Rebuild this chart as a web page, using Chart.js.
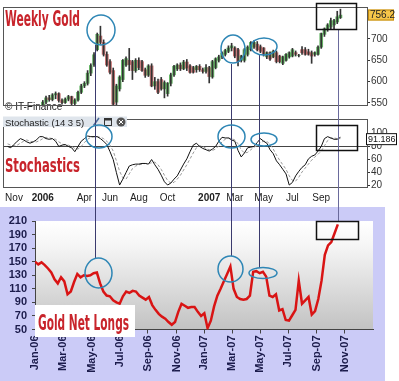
<!DOCTYPE html>
<html>
<head>
<meta charset="utf-8">
<script src="https://cdn.jsdelivr.net/npm/chart.js@4.4.1/dist/chart.umd.min.js"></script>
<style>
  html, body { margin: 0; padding: 0; background: #fff; }
  #wrap { position: relative; width: 399px; height: 381px; overflow: hidden; }
  canvas { position: absolute; left: 0; }
  #priceCanvas { top: 0; }
  #stochCanvas { top: 112px; }
  #cotCanvas { top: 207px; background: #cbcbf7; }
  #marks { top: 0; pointer-events: none; }
</style>
</head>
<body>
<div id="wrap">
  <canvas id="priceCanvas" width="399" height="112"></canvas>
  <canvas id="stochCanvas" width="399" height="95"></canvas>
  <canvas id="cotCanvas" width="385" height="174"></canvas>
  <canvas id="marks" width="399" height="381"></canvas>
</div>
<script>
// week 0 = first week of Nov 2005, shared by the candle and stochastic panels
const weekMin = -3.44;
const weekMax = 110.3;

const candleStartWeek = 9;
const candleOpen  = [540,552,562,558,569,572,556,551,559,565,549,557,575,590,596,620,640,675,707,692,664,647,626,552,583,605,639,650,647,626,650,647,628,615,637,590,600,605,583,572,596,616,630,639,630,646,637,633,628,636,628,624,633,611,633,650,658,664,671,679,679,675,650,650,664,675,681,688,682,679,658,668,658,668,660,643,650,658,660,668,661,675,675,670,668,664,664,681,711,722,728,733,740,750];
const candleHigh  = [556,566,568,572,576,574,560,562,568,566,560,578,594,600,626,642,668,714,730,698,670,652,632,594,614,652,658,678,650,654,656,650,632,640,642,610,606,610,602,598,620,638,642,644,650,652,640,636,638,640,632,640,636,650,656,662,670,676,684,690,682,678,662,678,684,694,696,694,686,680,670,670,674,672,662,660,666,670,678,672,664,682,680,676,672,670,684,714,726,736,749,746,765,770];
const candleLow   = [536,548,554,555,560,552,547,549,555,546,546,554,572,586,592,614,636,672,688,660,636,618,543,546,578,600,636,626,605,622,628,624,610,612,588,582,572,580,562,566,590,612,626,626,628,626,620,620,622,624,620,620,597,608,630,646,654,660,668,672,656,637,646,646,660,672,678,672,668,660,654,650,656,644,644,640,648,655,658,660,658,664,662,662,643,660,662,678,706,718,724,724,736,748];
const candleClose = [552,562,558,569,572,556,551,559,565,549,557,575,590,596,620,638,663,711,692,664,639,622,547,590,611,650,654,640,626,650,633,626,615,637,590,600,575,583,598,596,616,636,639,630,646,632,622,622,636,628,624,633,612,647,654,658,667,673,679,684,660,647,660,675,681,692,692,675,671,664,668,653,671,647,647,658,664,668,675,664,661,668,664,664,660,668,681,713,724,733,743,743,752,756];
const priceTicks = [550, 600, 650, 700];
const lastPrice = 756.2;

const stochStartWeek = -2;
const stochK = [80,78,83,88,92,90,87,85,87,90, 95,95,92,91,92,88,80,82,83,80, 78,72,80,88,92,96,95,95,95,92, 88,83,72,60,40,21,30,40,50,52, 53,53,54,54,53,60,52,45,36,26, 21,24,30,35,44,53,61,72,82,85, 80,77,75,73,76,80,88,94,93,93, 90,88,74,64,70,78,79,80,86,92, 88,85,75,69,58,52,45,38,21,25, 35,42,48,52,61,65,67,73,80,92, 95,93,91,91,94];
const stochD = [84,82,81,82,85,88,90,88,87,87, 89,92,94,93,92,91,87,84,82,82, 80,77,76,80,86,91,94,95,95,94, 92,88,82,73,58,42,32,30,38,46, 50,52,53,54,54,55,56,52,45,36, 28,24,25,30,36,44,52,61,70,78, 81,80,77,75,74,76,81,87,91,93, 92,90,84,75,70,71,75,79,81,86, 88,88,83,76,67,59,52,45,35,28, 27,33,41,47,53,59,64,68,73,81, 89,93,93,92,92];
const stochTicks = [20, 40, 60, 80, 100];
const stochLabelWeeks = [0, 9, 22, 30, 39, 48, 61, 69, 78, 87, 96];
const stochLabels = ['Nov', '2006', 'Apr', 'Jun', 'Aug', 'Oct', '2007', 'Mar', 'May', 'Jul', 'Sep'];
const lastStoch = 91.186;

// gold net longs, weekly from the first week of Jan 2006
const netLongs = [150,146,149,145,140,134,124,118,127,121, 102,106,120,132,127,130,129,130,133,134, 118,106,100,99,93,90,88,99,106,104, 107,106,100,97,94,98,86,79,73,69, 66,61,57,61,76,88,85,82,83,83, 76,70,74,52,63,84,100,110,121,132, 143,110,98,95,94,95,100,135,136,133, 135,128,100,98,102,78,80,64,63,71, 79,122,88,93,98,72,77,95,122,160, 174,179,192,205];
const netLongTickWeeks = [0, 8.6, 17.5, 26.1, 34.7, 43.6, 51.9, 60.5, 69.1, 77.7, 86.6, 95.2];
const netLongTickLabels = ['Jan-06','Mar-06','May-06','Jul-06','Sep-06','Nov-06','Jan-07','Mar-07','May-07','Jul-07','Sep-07','Nov-07'];

const sans = '"Liberation Sans", Arial, sans-serif';
const narrow = '"Liberation Sans Narrow", "DejaVu Sans Condensed", sans-serif';
const titleRed = '#c8242b';

// ---------- weekly gold candles ----------
let bodies = [];
let wicks = [];
let bodyColors = [];
for (var i = 0; i < candleOpen.length; i += 1) {
    let w = candleStartWeek + i;
    bodies.push({x: w, y: [candleOpen[i], candleClose[i]]});
    wicks.push({x: w, y: [candleLow[i], candleHigh[i]]});
    bodyColors.push(candleClose[i] >= candleOpen[i] ? '#66b566' : '#c47272');
}

const priceDecor = {
    id: 'priceDecor',
    beforeDatasetsDraw(chart) {
        const c = chart.ctx;
        c.save();
        c.font = '10px ' + sans;
        c.fillStyle = '#222';
        c.fillText('© IT-Finance', 5, 110);
        c.restore();
    },
    afterDraw(chart) {
        const c = chart.ctx;
        const a = chart.chartArea;
        c.save();
        c.strokeStyle = '#555';
        c.lineWidth = 1;
        c.strokeRect(a.left + 0.5, a.top + 0.5, a.right - a.left, a.bottom - a.top);
        c.font = 'bold 21px ' + narrow;
        c.fillStyle = titleRed;
        c.fillText('Weekly Gold', 5, 26, 75);
        let y = chart.scales.y.getPixelForValue(lastPrice);
        c.fillStyle = '#f6c64a';
        c.fillRect(368, y - 5.5, 26, 11);
        c.strokeStyle = '#c08a10';
        c.strokeRect(368.5, y - 5, 25, 10);
        c.fillStyle = '#222';
        c.font = '10px ' + sans;
        c.textBaseline = 'middle';
        c.fillText(lastPrice.toFixed(1), 370, y + 0.5);
        c.restore();
    }
};

new Chart(document.getElementById('priceCanvas'), {
    type: 'bar',
    data: {
        datasets: [{
            data: wicks,
            backgroundColor: '#333',
            barThickness: 1,
            grouped: false,
            order: 1
        }, {
            data: bodies,
            backgroundColor: bodyColors,
            barThickness: 3,
            grouped: false,
            order: 2
        }]
    },
    options: {
        responsive: false,
        animation: false,
        layout: {padding: {left: 3, top: 3, right: 0, bottom: 1}},
        plugins: {legend: {display: false}, tooltip: {enabled: false}},
        scales: {
            x: {type: 'linear', min: weekMin, max: weekMax, offset: false, display: false},
            y: {
                position: 'right',
                min: 545.3,
                max: 775,
                afterFit: (s) => { s.width = 32; },
                afterBuildTicks: (s) => { s.ticks = priceTicks.map((v) => ({value: v})); },
                grid: {drawOnChartArea: false, tickLength: 3, color: '#333'},
                border: {color: '#333'},
                ticks: {padding: 1, color: '#333', font: {size: 10, family: sans}}
            }
        }
    },
    plugins: [priceDecor]
});

// ---------- stochastic ----------
const stochDecor = {
    id: 'stochDecor',
    beforeDatasetsDraw(chart) {
        const c = chart.ctx;
        const a = chart.chartArea;
        let y = Math.round(chart.scales.y.getPixelForValue(80)) + 0.5;
        c.save();
        c.strokeStyle = '#444';
        c.lineWidth = 1;
        c.beginPath();
        c.moveTo(a.left, y);
        c.lineTo(a.right, y);
        c.stroke();
        c.restore();
    },
    afterDraw(chart) {
        const c = chart.ctx;
        const a = chart.chartArea;
        c.save();
        c.strokeStyle = '#555';
        c.lineWidth = 1;
        c.strokeRect(a.left + 0.5, a.top + 0.5, a.right - a.left, a.bottom - a.top);
        // panel header
        c.fillStyle = '#dfe5ec';
        c.fillRect(3, 4.5, 124, 10.5);
        c.fillStyle = '#222';
        c.font = '9.5px ' + sans;
        c.fillText('Stochastic (14 3 5)', 5, 13.5);
        c.strokeStyle = '#4a6a9a';
        c.lineWidth = 1.5;
        c.beginPath();
        c.moveTo(93.5, 13.5);
        c.lineTo(99, 6);
        c.stroke();
        c.strokeStyle = '#333';
        c.lineWidth = 1;
        c.strokeRect(104.5, 6.5, 7, 7);
        c.fillStyle = '#333';
        c.fillRect(104, 6, 8, 2.5);
        c.fillStyle = '#555';
        c.beginPath();
        c.arc(121, 10, 4.5, 0, Math.PI * 2);
        c.fill();
        c.strokeStyle = '#fff';
        c.beginPath();
        c.moveTo(119, 8); c.lineTo(123, 12);
        c.moveTo(123, 8); c.lineTo(119, 12);
        c.stroke();
        // label
        c.font = 'bold 20px ' + narrow;
        c.fillStyle = titleRed;
        c.fillText('Stochastics', 5, 60, 75);
        // last value tag
        let y = chart.scales.y.getPixelForValue(lastStoch);
        c.fillStyle = '#fff';
        c.fillRect(366, y - 6, 31, 12);
        c.strokeStyle = '#111';
        c.strokeRect(366.5, y - 5.5, 30, 11);
        c.fillStyle = '#111';
        c.font = '9px ' + sans;
        c.textBaseline = 'middle';
        c.fillText(lastStoch.toString(), 368, y + 0.5, 28);
        c.restore();
    }
};

new Chart(document.getElementById('stochCanvas'), {
    type: 'line',
    data: {
        datasets: [{
            data: stochK.map((v, i) => ({x: stochStartWeek + i, y: v})),
            borderColor: '#111',
            borderWidth: 1,
            pointRadius: 0
        }, {
            data: stochD.map((v, i) => ({x: stochStartWeek + i, y: v})),
            borderColor: '#999',
            borderWidth: 1,
            borderDash: [3, 2],
            pointRadius: 0
        }]
    },
    options: {
        responsive: false,
        animation: false,
        layout: {padding: {left: 3, top: 2.5, right: 0, bottom: 0}},
        plugins: {legend: {display: false}, tooltip: {enabled: false}},
        scales: {
            x: {
                type: 'linear',
                min: weekMin,
                max: weekMax,
                afterFit: (s) => { s.height = 20; },
                afterBuildTicks: (s) => { s.ticks = stochLabelWeeks.map((v) => ({value: v})); },
                grid: {display: false},
                border: {display: false},
                ticks: {
                    autoSkip: false,
                    maxRotation: 0,
                    padding: -3,
                    color: '#222',
                    font: (ctx) => ({size: 10, family: sans, weight: /^\d/.test(stochLabels[ctx.index] || '') ? 'bold' : 'normal'}),
                    callback: (v, i) => stochLabels[i]
                }
            },
            y: {
                position: 'right',
                min: 18,
                max: 122,
                afterFit: (s) => { s.width = 32; },
                afterBuildTicks: (s) => { s.ticks = stochTicks.map((v) => ({value: v})); },
                grid: {drawOnChartArea: false, tickLength: 3, color: '#333'},
                border: {color: '#333'},
                ticks: {padding: 1, color: '#333', font: {size: 10, family: sans}}
            }
        }
    },
    plugins: [stochDecor]
});

// ---------- gold net longs ----------
const cotDecor = {
    id: 'cotDecor',
    beforeDraw(chart) {
        const c = chart.ctx;
        const a = chart.chartArea;
        let g = c.createLinearGradient(0, a.top, 0, a.bottom);
        g.addColorStop(0, '#ffffff');
        g.addColorStop(0.22, '#f6f6f6');
        g.addColorStop(1, '#c2c2c2');
        c.save();
        c.fillStyle = g;
        c.fillRect(a.left, a.top, a.right - a.left, a.bottom - a.top);
        c.restore();
    },
    afterDraw(chart) {
        const c = chart.ctx;
        c.save();
        c.fillStyle = '#fff';
        c.fillRect(35, 98, 100, 32);
        c.font = 'bold 22px ' + narrow;
        c.fillStyle = titleRed;
        c.fillText('Gold Net Longs', 38, 123, 91);
        c.restore();
    }
};

new Chart(document.getElementById('cotCanvas'), {
    type: 'line',
    data: {
        datasets: [{
            data: netLongs.map((v, i) => ({x: i, y: v})),
            borderColor: '#d91414',
            borderWidth: 2.5,
            pointRadius: 0
        }]
    },
    options: {
        responsive: false,
        animation: false,
        layout: {padding: {left: 0, top: 14, right: 12, bottom: 0}},
        plugins: {legend: {display: false}, tooltip: {enabled: false}},
        scales: {
            x: {
                type: 'linear',
                min: 0,
                max: 103.8,
                afterFit: (s) => { s.height = 51.5; },
                afterBuildTicks: (s) => { s.ticks = netLongTickWeeks.map((v) => ({value: v})); },
                grid: {drawOnChartArea: false, tickLength: 4, color: '#444'},
                border: {color: '#444'},
                ticks: {
                    autoSkip: false,
                    minRotation: 90,
                    maxRotation: 90,
                    padding: 2,
                    color: '#1c1c4c',
                    font: {size: 11, weight: 'bold', family: sans},
                    callback: (v, i) => netLongTickLabels[i]
                }
            },
            y: {
                min: 50,
                max: 210,
                afterFit: (s) => { s.width = 35; },
                grid: {drawOnChartArea: false, tickLength: 3, color: '#444'},
                border: {color: '#444'},
                ticks: {stepSize: 20, autoSkip: false, padding: 5, color: '#1c1c4c', font: {size: 11, weight: 'bold', family: sans}}
            }
        }
    },
    plugins: [cotDecor]
});

// ---------- hand-drawn annotations over all panels ----------
const m = document.getElementById('marks').getContext('2d');

function ellipse(cx, cy, rx, ry) {
    m.beginPath();
    m.ellipse(cx, cy, rx, ry, 0, 0, Math.PI * 2);
    m.stroke();
}

function vline(x, y1, y2, color) {
    m.strokeStyle = color;
    m.lineWidth = 1;
    m.beginPath();
    m.moveTo(x, y1);
    m.lineTo(x, y2);
    m.stroke();
}

vline(95.5, 45, 258, '#3b3b6e');
vline(231.5, 64, 256, '#3b3b6e');
vline(259.5, 55, 268, '#3b3b6e');
vline(338.5, 29, 222, '#6a6a9c');

m.strokeStyle = '#2e86b5';
m.lineWidth = 1.5;
ellipse(101, 30, 14, 15);
ellipse(233, 49, 12, 14);
ellipse(264, 46.5, 13, 8.5);
ellipse(99, 136.5, 13, 11.5);
ellipse(231.5, 136.5, 13.5, 11.5);
ellipse(264, 139.5, 13, 6.5);
ellipse(98.5, 273, 13.5, 15);
ellipse(230.5, 269, 12.5, 13);
ellipse(263, 273, 14, 5.5);

m.strokeStyle = '#111';
m.lineWidth = 1.5;
m.strokeRect(316.5, 3.5, 40, 26);
m.strokeRect(316.5, 125.5, 41, 25);
m.strokeRect(316.5, 221.5, 42, 18);
</script>
</body>
</html>
